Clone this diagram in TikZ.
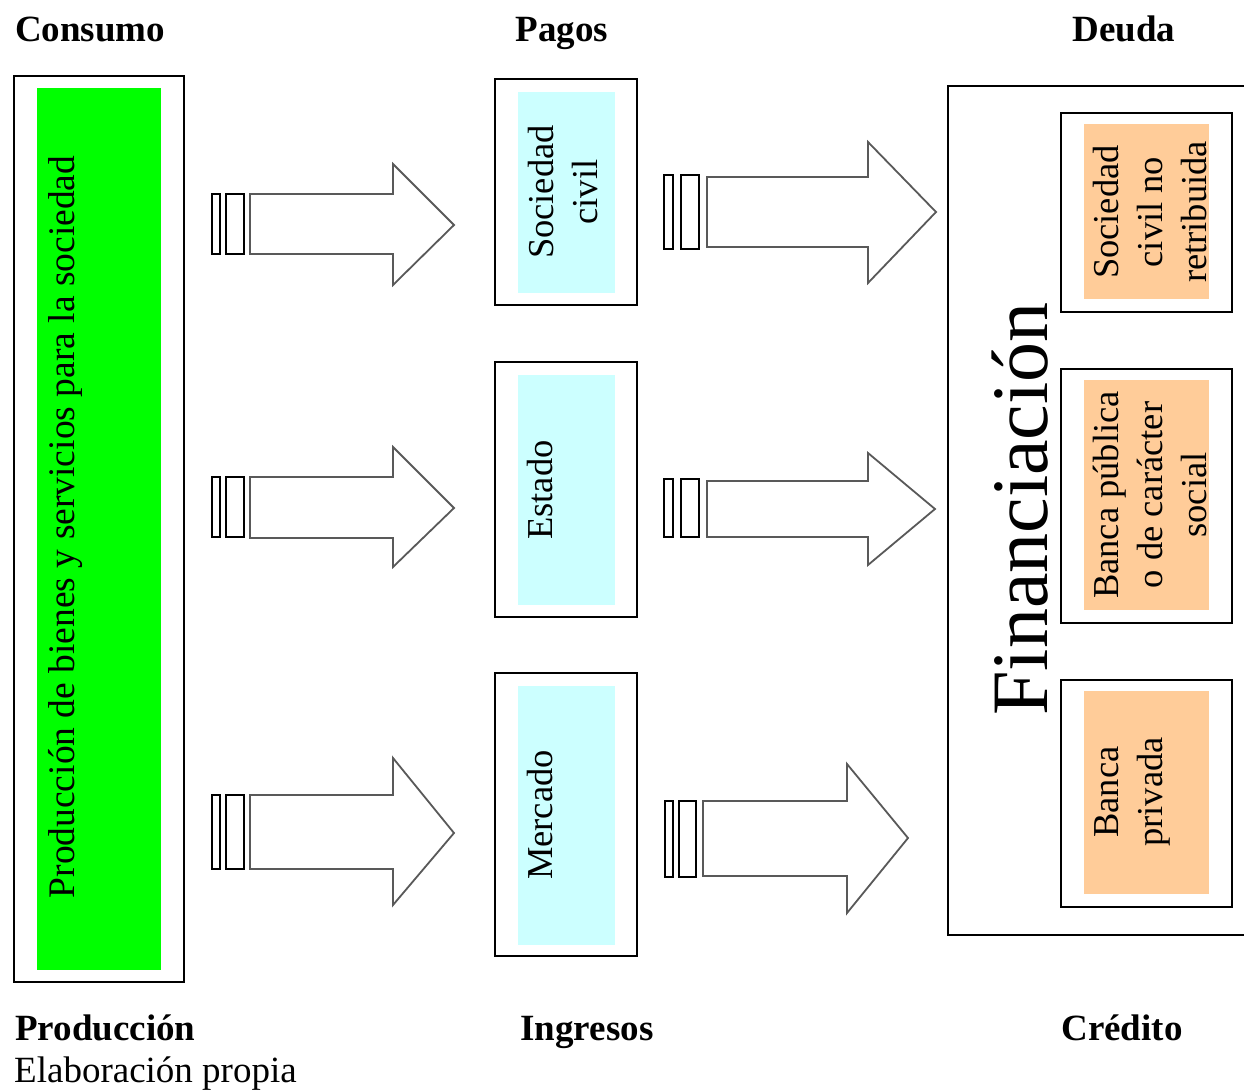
\documentclass[tikz,border=0pt]{standalone}
\usepackage{fontspec}
\setmainfont{Liberation Serif}
\definecolor{vgreen}{HTML}{00FF00}
\definecolor{lcyan}{HTML}{CCFFFF}
\definecolor{lorange}{HTML}{FFCC99}
\begin{document}
\begin{tikzpicture}[x=1pt,y=-1pt,
  frame/.style={draw=black, line width=2pt},
  fillbox/.style={draw=none},
  arrowbody/.style={draw=black!65, line width=1.8pt, line join=miter, fill=white},
  barbox/.style={draw=black, line width=1.5pt, fill=white},
  vtext/.style={rotate=90, anchor=north, inner sep=0pt, align=center, font=\fontsize{36.5}{44}\selectfont},
  headtext/.style={font=\bfseries\fontsize{37}{44}\selectfont, inner sep=0pt}]
\useasboundingbox (0,0) rectangle (1244,1089);
\clip (0,0) rectangle (1244,1089);

% left column
\draw[frame] (14,76) rectangle (184,982);
\fill[vgreen] (37,88) rectangle (161,970);
\node[vtext, font=\fontsize{37.5}{44}\selectfont] (prod) at (48,527) {Producción de bienes y servicios para la sociedad};

% middle column
\draw[frame] (495,79) rectangle (637,305);
\fill[lcyan] (518,92) rectangle (615,293);
\draw[frame] (495,362) rectangle (637,617);
\fill[lcyan] (518,375) rectangle (615,605);
\draw[frame] (495,673) rectangle (637,956);
\fill[lcyan] (518,686) rectangle (615,945);
\node[vtext] (soc) at (528,192) {Sociedad\\civil};
\node[vtext] (est) at (527,490) {Estado};
\node[vtext] (mer) at (527,815) {Mercado};

% right column
\draw[frame] (948,86) rectangle (1262,935);
\node[vtext, font=\fontsize{80}{96}\selectfont] (fin) at (992,509) {Financiación};
\draw[frame] (1061,113) rectangle (1232,312);
\fill[lorange] (1084,124) rectangle (1209,299);
\draw[frame] (1061,369) rectangle (1232,623);
\fill[lorange] (1084,380) rectangle (1209,610);
\draw[frame] (1061,680) rectangle (1232,907);
\fill[lorange] (1084,691) rectangle (1209,894);
\node[vtext] (scnr) at (1093,212) {Sociedad\\civil no\\retribuida};
\node[vtext] (bps) at (1093,495) {Banca pública\\o de carácter\\social};
\node[vtext] (bpr) at (1094,792) {Banca\\privada};

% left arrows
\draw[barbox] (212,194) rectangle (220,254);
\draw[barbox] (226,194) rectangle (244,254);
\draw[arrowbody] (250,194) -- (393,194) -- (393,164) -- (454,225) -- (393,285) -- (393,254) -- (250,254) -- cycle;
\draw[barbox] (212,477) rectangle (220,537);
\draw[barbox] (226,477) rectangle (244,537);
\draw[arrowbody] (250,477) -- (393,477) -- (393,447) -- (454,508) -- (393,567) -- (393,538) -- (250,538) -- cycle;
\draw[barbox] (212,795) rectangle (220,869);
\draw[barbox] (226,795) rectangle (244,869);
\draw[arrowbody] (250,795) -- (393,795) -- (393,758) -- (454,833) -- (393,905) -- (393,869) -- (250,869) -- cycle;

% right arrows
\draw[barbox] (664,175) rectangle (673,249);
\draw[barbox] (681,175) rectangle (699,249);
\draw[arrowbody] (707,177) -- (868,177) -- (868,142) -- (936,212) -- (868,283) -- (868,247) -- (707,247) -- cycle;
\draw[barbox] (664,479) rectangle (673,537);
\draw[barbox] (681,479) rectangle (699,537);
\draw[arrowbody] (707,481) -- (868,481) -- (868,453) -- (935,509) -- (868,565) -- (868,537) -- (707,537) -- cycle;
\draw[barbox] (665,801) rectangle (673,877);
\draw[barbox] (679,801) rectangle (696,877);
\draw[arrowbody] (703,801) -- (847,801) -- (847,764) -- (908,838) -- (847,913) -- (847,876) -- (703,876) -- cycle;

% headings
\node[headtext, anchor=base west] (consumo) at (15,42) {Consumo};
\node[headtext, anchor=base] (pagos) at (562,42) {Pagos};
\node[headtext, anchor=base] (deuda) at (1124,42) {Deuda};
\node[headtext, anchor=base west] (produccion) at (15,1040) {Producción};
\node[headtext, anchor=base] (ingresos) at (587,1040) {Ingresos};
\node[headtext, anchor=base] (credito) at (1122,1040) {Crédito};
\node[inner sep=0pt, anchor=base west, font=\fontsize{37}{44}\selectfont] (fuente) at (14,1082) {Elaboración propia};
\end{tikzpicture}
\end{document}
